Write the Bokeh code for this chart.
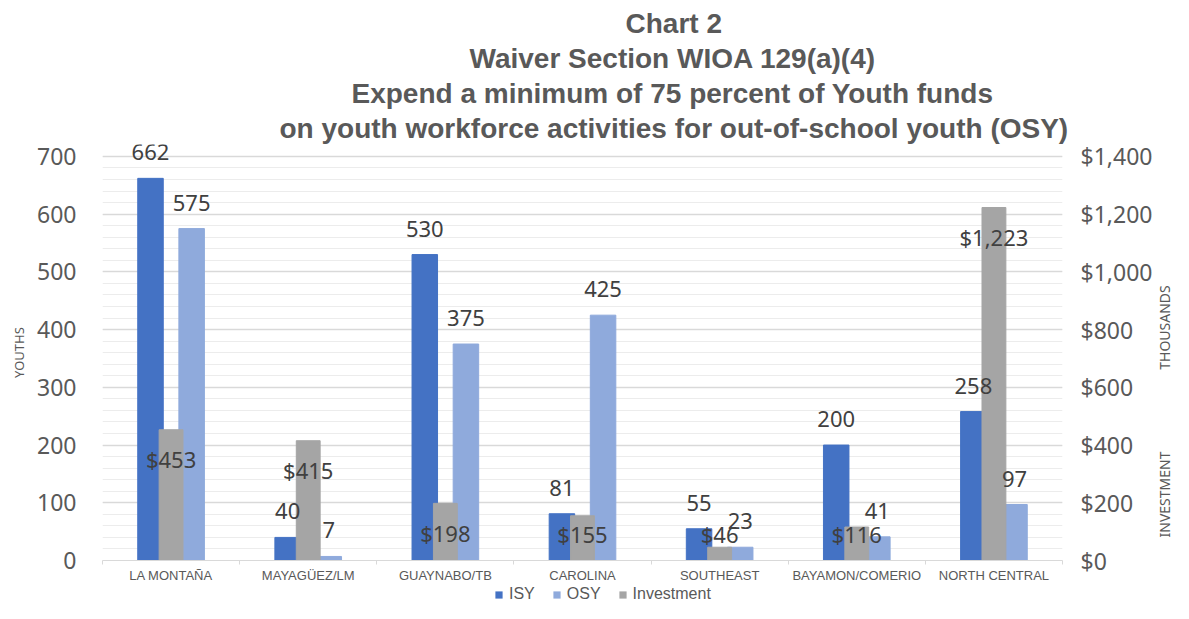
import numpy as np
from bokeh.plotting import figure
from bokeh.layouts import column, row
from bokeh.models import (ColumnDataSource, Range1d, LinearAxis, FixedTicker,
                          NumeralTickFormatter, Title, Legend, LegendItem, Label)
from bokeh.core.properties import value
from bokeh.embed import file_html
from bokeh.resources import INLINE

# ---------------- data ----------------
categories = ["LA MONTAÑA", "MAYAGÜEZ/LM", "GUAYNABO/TB", "CAROLINA",
              "SOUTHEAST", "BAYAMON/COMERIO", "NORTH CENTRAL"]
isy = [662, 40, 530, 81, 55, 200, 258]
osy = [575, 7, 375, 425, 23, 41, 97]
investment = [453, 415, 198, 155, 46, 116, 1223]
left_ticks = [0, 100, 200, 300, 400, 500, 600, 700]
right_ticks = [0, 200, 400, 600, 800, 1000, 1200, 1400]
series_names = ["ISY", "OSY", "Investment"]
right_title_parts = ["INVESTMENT", "THOUSANDS"]
title_lines = ["Chart 2",
               "Waiver Section WIOA 129(a)(4)",
               "Expend a minimum of 75 percent of Youth funds",
               "on youth workforce activities for out-of-school youth (OSY)"]

# ---------------- style / layout ----------------
C_ISY = "#4472C4"
C_OSY = "#8FAADC"
C_INV = "#A5A5A5"
TXT = "#595959"
LBL = "#404040"
NUMFONT = "Noto Sans"
SMALLFONT = "Liberation Sans"

W, HP, HL = 1173, 585, 18        # total width, chart height, legend strip height
WR = 18                          # width of the strip holding the right axis title
WP = W - WR                      # chart width
FL, FT, FB = 102, 144, 563       # frame edges (px)
RB = 91                          # right border (tick labels)
Y700 = 156                       # pixel row of the 700 gridline
y_end = 700 * (FB - FT) / (FB - Y700)
title_offsets = [523, 367, 249, 177]
right_title_y = [66, 233]        # px above frame bottom

n = len(categories)
xc = np.arange(n) + 0.5
inv_arr = np.array(investment)
src = ColumnDataSource(dict(
    x=xc,
    x_isy=xc - 0.15,
    x_osy=xc + 0.15,
    isy=isy, osy=osy, inv=investment,
    isy_t=[str(v) for v in isy],
    osy_t=[str(v) for v in osy],
    inv_t=["${:,}".format(v) for v in investment],
    inv_ly=np.maximum(inv_arr - 103, 92),
))

p = figure(width=WP, height=HP, x_range=Range1d(0, n), y_range=Range1d(0, y_end),
           min_border_left=FL, min_border_right=RB, min_border_top=FT,
           min_border_bottom=HP - FB, output_backend="svg", toolbar_location=None,
           title=None)
p.extra_y_ranges = {"inv": Range1d(0, 2 * y_end)}
p.outline_line_color = None
p.background_fill_color = "white"
p.border_fill_color = "white"

# grid
p.xgrid.visible = False
p.ygrid.ticker = FixedTicker(ticks=left_ticks, minor_ticks=list(range(0, 701, 20)))
p.ygrid.grid_line_color = "#d9d9d9"
p.ygrid.grid_line_width = 1.3
p.ygrid.minor_grid_line_color = "#ececec"
p.ygrid.minor_grid_line_width = 1

# bars
r_isy = p.vbar(x="x_isy", top="isy", width=0.186, source=src, color=C_ISY)
r_osy = p.vbar(x="x_osy", top="osy", width=0.186, source=src, color=C_OSY)
r_inv = p.vbar(x="x", top="inv", width=0.174, source=src, color=C_INV, y_range_name="inv")

# data labels
common = dict(text_align="center", text_baseline="middle", text_font=value(NUMFONT),
              text_font_size="22px", text_color=LBL, source=src)
p.text(x="x_isy", y="isy", text="isy_t", y_offset=-26, **common)
p.text(x="x_osy", y="osy", text="osy_t", y_offset=-26, **common)
p.text(x="x", y="inv_ly", text="inv_t", y_range_name="inv", **common)

# x axis
xa = p.xaxis[0]
xa.ticker = FixedTicker(ticks=list(xc), minor_ticks=list(range(n + 1)))
xa.major_label_overrides = {float(v): c for v, c in zip(xc, categories)}
xa.major_tick_out = 0
xa.major_tick_in = 0
xa.minor_tick_out = 4
xa.minor_tick_in = 0
xa.minor_tick_line_color = "#d9d9d9"
xa.axis_line_color = "#d9d9d9"
xa.major_label_standoff = 3
xa.major_label_text_font = SMALLFONT
xa.major_label_text_font_size = "13px"
xa.major_label_text_color = TXT

# left axis
ya = p.yaxis[0]
ya.ticker = FixedTicker(ticks=left_ticks)
ya.axis_line_color = None
ya.major_tick_out = 0
ya.major_tick_in = 0
ya.minor_tick_out = 0
ya.minor_tick_in = 0
ya.major_label_standoff = 26
ya.major_label_text_font = NUMFONT
ya.major_label_text_font_size = "23px"
ya.major_label_text_color = TXT
ya.axis_label = "YOUTHS"
ya.axis_label_text_font = NUMFONT
ya.axis_label_text_font_size = "13px"
ya.axis_label_text_font_style = "normal"
ya.axis_label_text_color = TXT
ya.axis_label_standoff = 6

# right axis
ra = LinearAxis(y_range_name="inv", ticker=FixedTicker(ticks=right_ticks),
                formatter=NumeralTickFormatter(format="$0,0"))
ra.axis_line_color = None
ra.major_tick_out = 0
ra.major_tick_in = 0
ra.minor_tick_out = 0
ra.minor_tick_in = 0
ra.major_label_standoff = 18
ra.major_label_text_font = NUMFONT
ra.major_label_text_font_size = "23px"
ra.major_label_text_color = TXT
p.add_layout(ra, "right")

# title lines (added from the bottom line upward)
for txt, off in reversed(list(zip(title_lines, title_offsets))):
    p.add_layout(Title(text=txt, align="left", offset=off, standoff=2,
                       text_font="Liberation Sans", text_font_style="bold",
                       text_font_size="28px", text_color=TXT), "above")

# narrow strip to the right holding the rotated right-axis title
r = figure(width=WR, height=HP, x_range=Range1d(0, 1), y_range=Range1d(0, 1),
           min_border_left=0, min_border_right=0, min_border_top=FT,
           min_border_bottom=HP - FB, output_backend="svg", toolbar_location=None,
           title=None, x_axis_location=None, y_axis_location=None)
r.outline_line_color = None
r.grid.visible = False
for txt, yy in zip(right_title_parts, right_title_y):
    r.add_layout(Label(x=WR / 2, y=yy, x_units="screen", y_units="screen", text=txt,
                       angle=90, angle_units="deg", text_align="center",
                       text_baseline="middle", text_font=NUMFONT,
                       text_font_size="14px", text_color=TXT))

# legend strip (an axis-less figure below the chart)
q = figure(width=W, height=HL, x_range=Range1d(0, 1), y_range=Range1d(0, 1),
           min_border_left=FL, min_border_right=0, min_border_top=0,
           min_border_bottom=0, output_backend="svg", toolbar_location=None,
           title=None, x_axis_location=None, y_axis_location=None)
q.outline_line_color = None
q.grid.visible = False
swatches = [q.vbar(x=[0.5], top=[0], bottom=[0], width=0.01, fill_color=c,
                   line_alpha=0) for c in (C_ISY, C_OSY, C_INV)]
legend = Legend(items=[LegendItem(label=nm, renderers=[rr])
                       for nm, rr in zip(series_names, swatches)],
                location=(392, 0), orientation="horizontal",
                border_line_color=None, background_fill_alpha=0,
                padding=0, margin=0, spacing=17, label_standoff=6,
                glyph_width=9, glyph_height=9, label_height=16,
                label_text_font=SMALLFONT, label_text_font_size="16px",
                label_text_color=TXT)
q.add_layout(legend, "center")

layout = column(row(p, r, spacing=0), q, spacing=0)
open("out.html", "w").write(file_html(layout, INLINE))
